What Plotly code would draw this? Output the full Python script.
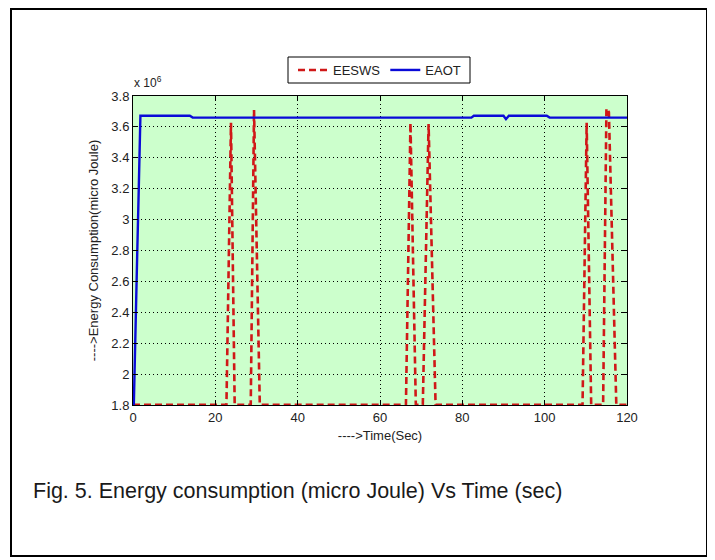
import plotly.graph_objects as go

# ---- data (energy in units of 10^6 micro Joule, time in sec) ----
t_eesws = [0, 22.7, 23.8, 24.7, 28.6, 29.4, 30.8, 66.3, 67.4, 68.7, 70.4, 71.8, 73.5,
           109.2, 110.2, 111.3, 114.2, 115.0, 115.6, 117.4, 120]
e_eesws = [1.802, 1.802, 3.627, 1.802, 1.802, 3.71, 1.802, 1.802, 3.627, 1.802, 1.802, 3.618, 1.802,
           1.802, 3.627, 1.802, 1.802, 3.72, 3.695, 1.802, 1.802]

t_eaot = [0.2, 0.6, 1.0, 1.4, 1.8, 13.8, 14.5, 82.2, 82.8, 90.0, 90.6, 91.3, 100.5, 101.2, 120]
e_eaot = [1.8, 2.2, 2.75, 3.2, 3.672, 3.672, 3.66, 3.66, 3.672, 3.672, 3.65, 3.672, 3.672, 3.66, 3.66]

x_ticks = [0, 20, 40, 60, 80, 100, 120]
y_ticks = [1.8, 2.0, 2.2, 2.4, 2.6, 2.8, 3.0, 3.2, 3.4, 3.6, 3.8]
y_ticklabels = ["1.8", "2", "2.2", "2.4", "2.6", "2.8", "3", "3.2", "3.4", "3.6", "3.8"]

series_names = ["EESWS", "EAOT"]
caption = "Fig. 5. Energy consumption (micro Joule) Vs Time (sec)"

# ---- layout geometry (page pixel coords; page body has an 8px margin) ----
OFF = 8
W, H = 715 - OFF, 560 - OFF
L, R, T, B = 133 - OFF, 627 - OFF, 96 - OFF, 405 - OFF
pw, ph = R - L, B - T

def px(xpage):
    return (xpage - OFF - L) / pw

def py(ypage):
    return (B - (ypage - OFF)) / ph

FONT = "Liberation Sans, Arial, Helvetica, sans-serif"
TICKFONT = dict(family=FONT, size=13, color="#222222")

fig = go.Figure()
fig.add_trace(go.Scatter(x=t_eesws, y=e_eesws, mode="lines", name=series_names[0],
                         line=dict(color="#d01818", width=2.6, dash="7px,4px")))
fig.add_trace(go.Scatter(x=t_eaot, y=e_eaot, mode="lines", name=series_names[1],
                         line=dict(color="#0a0ad8", width=2.4)))

axis_common = dict(showline=True, linecolor="#000000", linewidth=1, mirror="ticks",
                   ticks="inside", ticklen=5, tickcolor="#000000",
                   showgrid=True, gridcolor="#000000", gridwidth=1, griddash="1px,3px",
                   zeroline=False, tickfont=TICKFONT)

fig.update_layout(
    width=W, height=H,
    margin=dict(l=L, r=W - R, t=T, b=H - B, autoexpand=False),
    paper_bgcolor="#ffffff", plot_bgcolor="#ccffcc",
    showlegend=True,
    legend=dict(orientation="h", x=px(293), y=py(70), xanchor="left", yanchor="middle",
                borderwidth=0, bgcolor="rgba(0,0,0,0)",
                font=dict(family=FONT, size=13, color="#222222"),
                itemwidth=30, tracegroupgap=0),
    xaxis=dict(range=[0, 120], tickvals=x_ticks, ticktext=[str(v) for v in x_ticks],
               title=dict(text="---->Time(Sec)", standoff=7,
                          font=dict(family=FONT, size=13, color="#222222")),
               **axis_common),
    yaxis=dict(range=[1.8, 3.8], tickvals=y_ticks, ticktext=y_ticklabels,
               title=dict(text="---->Energy Consumption(micro Joule)", standoff=9,
                          font=dict(family=FONT, size=13, color="#222222")),
               **axis_common),
    shapes=[
        dict(type="rect", xref="paper", yref="paper",
             x0=px(11), x1=px(707), y0=py(556), y1=py(9),
             line=dict(color="#000000", width=2), fillcolor="rgba(0,0,0,0)", layer="below"),
        dict(type="rect", xref="paper", yref="paper",
             x0=px(288), x1=px(470), y0=py(83), y1=py(57),
             line=dict(color="#000000", width=1), fillcolor="#ffffff", layer="below"),
    ],
    annotations=[
        dict(text="x 10<sup>6</sup>", xref="paper", yref="paper", x=px(132), y=py(82),
             xanchor="left", yanchor="middle", showarrow=False,
             font=dict(family=FONT, size=12, color="#222222")),
        dict(text=caption, xref="paper", yref="paper", x=px(31), y=py(491),
             xanchor="left", yanchor="middle", showarrow=False,
             font=dict(family=FONT, size=21.5, color="#1a1a1a")),
    ],
)

fig.write_html("out.html")
